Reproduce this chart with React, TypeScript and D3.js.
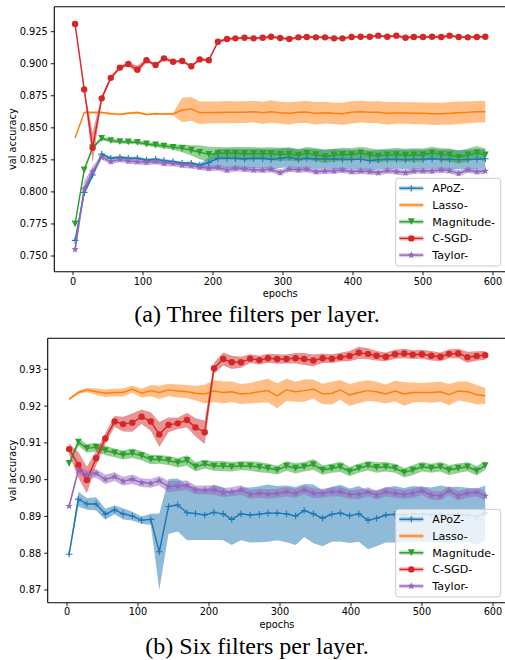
import React from 'react';
import * as d3 from 'd3';

// ---------- data ----------
const epochs = [3, 16, 28, 41, 54, 67, 79, 92, 105, 118, 130, 143, 156, 169, 181, 194, 207, 220, 232, 245, 258, 271, 283, 296, 309, 322, 334, 347, 360, 373, 385, 398, 411, 424, 436, 449, 462, 475, 487, 500, 513, 526, 538, 551, 564, 577, 589];

const seriesNames = ['APoZ-', 'Lasso-', 'Magnitude-', 'C-SGD-', 'Taylor-'];
const seriesColors = ['#1f77b4', '#ff7f0e', '#2ca02c', '#d62728', '#9467bd'];
const seriesMarkers = ['plus', 'none', 'tri', 'circle', 'star'];

const xTicks = [0, 100, 200, 300, 400, 500, 600];
const yTicksA = [0.75, 0.775, 0.8, 0.825, 0.85, 0.875, 0.9, 0.925];
const yTicksB = [0.87, 0.88, 0.89, 0.9, 0.91, 0.92, 0.93];

// (a) three filters per layer
const apozA = [0.7622, 0.7995, 0.8132, 0.8295, 0.8262, 0.827, 0.8262, 0.8262, 0.8249, 0.8254, 0.8244, 0.8236, 0.8223, 0.8223, 0.821, 0.8228, 0.8262, 0.8262, 0.8262, 0.8258, 0.8262, 0.8262, 0.8254,
  0.8262, 0.827, 0.8254, 0.8262, 0.8257, 0.8257, 0.8257, 0.8254, 0.8254, 0.8254, 0.8244, 0.8252, 0.8254, 0.8254, 0.8252, 0.8254, 0.8254, 0.8259, 0.8254, 0.8254, 0.8252, 0.8254, 0.8254, 0.8259];
const apozAStd = [0.001, 0.002, 0.002, 0.0012, 0.0012, 0.0012, 0.0013, 0.0012, 0.0012, 0.0013, 0.0012, 0.0012, 0.0013, 0.0012, 0.0012, 0.004,
  0.0072, 0.0075, 0.0074, 0.0076, 0.0075, 0.0073, 0.0078, 0.0076, 0.0075, 0.0077, 0.0074, 0.0076, 0.0075, 0.0078, 0.0076, 0.0074, 0.0075, 0.0077, 0.0076, 0.0075, 0.0074, 0.0076, 0.0078, 0.0075, 0.0074, 0.0076, 0.0077, 0.0075, 0.0074, 0.0076, 0.0075];
const lassoA = [0.842, 0.862, 0.862, 0.862, 0.861, 0.8605, 0.8614, 0.862, 0.8604, 0.861, 0.8608, 0.8608, 0.8639, 0.8648, 0.8618, 0.862, 0.862, 0.8622, 0.8622, 0.8622,
  0.8626, 0.8618, 0.8626, 0.8618, 0.8613, 0.8621, 0.8623, 0.8613, 0.8618, 0.8613, 0.861, 0.8621, 0.8626, 0.8621, 0.8621, 0.8613, 0.8616, 0.8616, 0.8613, 0.8613, 0.861, 0.861, 0.8613, 0.8618, 0.8621, 0.8626, 0.8626];
const lassoAStd = [0.0005, 0.0008, 0.0008, 0.0008, 0.0008, 0.0008, 0.0008, 0.0008, 0.0008, 0.0008, 0.0008, 0.001, 0.0095, 0.0092,
  0.0088, 0.0086, 0.0085, 0.0087, 0.0084, 0.0085, 0.0083, 0.0086, 0.0089, 0.0085, 0.0087, 0.0084, 0.0086, 0.0088, 0.0085, 0.0083, 0.0086, 0.0087, 0.0085, 0.0084, 0.0086, 0.0088, 0.0085, 0.0084, 0.0086, 0.0085, 0.0087, 0.0086, 0.0089, 0.0088, 0.0085, 0.0084, 0.0085];
const magA = [0.775, 0.8171, 0.8345, 0.8418, 0.84, 0.8392, 0.839, 0.8387, 0.8374, 0.8366, 0.8358, 0.8348, 0.834, 0.8325, 0.8309, 0.8293, 0.8301, 0.8301, 0.8301, 0.8298, 0.8298, 0.8298, 0.8298,
  0.8293, 0.8296, 0.8286, 0.8301, 0.8291, 0.8275, 0.8288, 0.8293, 0.8291, 0.8304, 0.8288, 0.828, 0.8288, 0.8291, 0.8286, 0.8288, 0.8288, 0.8304, 0.8291, 0.8288, 0.827, 0.8288, 0.8306, 0.8288];
const magAStd = [0.001, 0.0015, 0.0015, 0.0015, 0.0015, 0.0015, 0.0016, 0.0015, 0.0016, 0.0017, 0.0018, 0.002, 0.003, 0.004, 0.0055, 0.006,
  0.005, 0.0048, 0.005, 0.0052, 0.005, 0.0049, 0.005, 0.0051, 0.005, 0.0048, 0.005, 0.0052, 0.005, 0.0049, 0.0051, 0.005, 0.0048, 0.0052, 0.005, 0.0049, 0.0051, 0.005, 0.0053, 0.005, 0.0048, 0.005, 0.0051, 0.0049, 0.005, 0.0052, 0.005];
const csgdA = [0.931, 0.88, 0.8345, 0.873, 0.889, 0.897, 0.8998, 0.8954, 0.9027, 0.899, 0.9042, 0.9016, 0.9021, 0.898, 0.9034, 0.9027, 0.9172, 0.9193, 0.9198, 0.9203,
  0.9198, 0.9203, 0.9211, 0.9201, 0.9193, 0.9206, 0.9209, 0.9206, 0.9206, 0.9198, 0.9198, 0.9209, 0.9211, 0.9211, 0.9219, 0.9211, 0.9219, 0.9203, 0.9209, 0.9209, 0.9211, 0.9209, 0.9219, 0.9209, 0.9206, 0.9209, 0.9211];
const csgdAStd = [0.001, 0.0015, 0.012, 0.002, 0.0015, 0.0015, 0.0015, 0.003, 0.0015, 0.0012, 0.0015, 0.001, 0.001, 0.0012, 0.001, 0.001, 0.0012, 0.001, 0.0008, 0.0008,
  0.0009, 0.0009, 0.001, 0.0009, 0.001, 0.0009, 0.0009, 0.0008, 0.0009, 0.001, 0.0009, 0.0009, 0.0008, 0.0009, 0.001, 0.0009, 0.001, 0.0009, 0.0009, 0.0008, 0.0009, 0.001, 0.0009, 0.0009, 0.0008, 0.0009, 0.0009];
const taylorA = [0.7552, 0.8024, 0.8158, 0.8272, 0.8236, 0.8254, 0.8241, 0.8236, 0.8231, 0.8236, 0.8223, 0.8223, 0.821, 0.8205, 0.8192, 0.8184, 0.8189, 0.8171, 0.8184, 0.8179, 0.8171, 0.8171, 0.8176,
  0.815, 0.8179, 0.8171, 0.8176, 0.8158, 0.8163, 0.8163, 0.8171, 0.8158, 0.8163, 0.8158, 0.815, 0.8166, 0.8158, 0.815, 0.8163, 0.8163, 0.8163, 0.8171, 0.8166, 0.8145, 0.8171, 0.8158, 0.8163];
const taylorAStd = [0.004, 0.006, 0.004, 0.002, 0.0022, 0.0021, 0.0022, 0.0023, 0.0022, 0.0021, 0.0022, 0.0022, 0.0023, 0.0022, 0.0021, 0.0022, 0.0022, 0.0023, 0.0022, 0.0021, 0.0022, 0.0022, 0.0023,
  0.0022, 0.0021, 0.0022, 0.0022, 0.0023, 0.0022, 0.0021, 0.0022, 0.0022, 0.0023, 0.0022, 0.0021, 0.0022, 0.0022, 0.0023, 0.0022, 0.0021, 0.0022, 0.0022, 0.0023, 0.0022, 0.0021, 0.0022, 0.0022];

// (b) six filters per layer
const apozB = [0.8797, 0.8947, 0.8934, 0.8934, 0.8906, 0.8918, 0.8907, 0.8901, 0.889, 0.8892, 0.8804, 0.8927, 0.8931, 0.891, 0.8908, 0.8904, 0.8911, 0.8907, 0.8892, 0.8907,
  0.8904, 0.8906, 0.8909, 0.8909, 0.8907, 0.8901, 0.8916, 0.8907, 0.8895, 0.8906, 0.8909, 0.8902, 0.8907, 0.889, 0.8895, 0.8904, 0.8906, 0.8904, 0.8907, 0.8906, 0.8905, 0.8907, 0.8904, 0.8906, 0.8904, 0.8899, 0.8909];
const apozBStd = [0.0005, 0.002, 0.0016, 0.0018, 0.0015, 0.0012, 0.0015, 0.0012, 0.001, 0.0015, 0.0104, 0.0075, 0.0072, 0.0075, 0.0072, 0.0068, 0.0075, 0.0072, 0.007, 0.0072,
  0.0075, 0.0076, 0.0078, 0.0074, 0.0077, 0.0079, 0.0072, 0.008, 0.0076, 0.0075, 0.0077, 0.0074, 0.0076, 0.0079, 0.0076, 0.0075, 0.0077, 0.0073, 0.0076, 0.0075, 0.0074, 0.0077, 0.0076, 0.0075, 0.0074, 0.0076, 0.0075];
const lassoB = [0.9219, 0.9237, 0.9244, 0.9239, 0.9235, 0.9237, 0.9237, 0.9246, 0.9235, 0.9242, 0.9237, 0.9244, 0.9241, 0.9239, 0.9235, 0.9233, 0.9241, 0.9237, 0.9239, 0.9233, 0.9235, 0.9239,
  0.9242, 0.9228, 0.9244, 0.9239, 0.9242, 0.9246, 0.9233, 0.9235, 0.9244, 0.923, 0.9237, 0.9242, 0.9239, 0.9233, 0.9241, 0.9233, 0.9237, 0.9237, 0.9237, 0.9239, 0.9231, 0.9241, 0.9239, 0.9231, 0.9228];
const lassoBStd = [0.0003, 0.0005, 0.0006, 0.0009, 0.001, 0.001, 0.0011, 0.001, 0.0012, 0.0015, 0.0018, 0.0017, 0.0018, 0.0018, 0.002, 0.0025, 0.003, 0.003, 0.0028, 0.0027, 0.0028, 0.003,
  0.0032, 0.0034, 0.003, 0.0027, 0.003, 0.0026, 0.0028, 0.0031, 0.0027, 0.003, 0.0029, 0.0028, 0.0027, 0.0026, 0.0028, 0.0032, 0.0027, 0.0026, 0.0028, 0.0027, 0.0029, 0.0026, 0.0028, 0.0026, 0.0022];
const magB = [0.9044, 0.9102, 0.9085, 0.9088, 0.9079, 0.9073, 0.9067, 0.9072, 0.9065, 0.9055, 0.9055, 0.9052, 0.9046, 0.9052, 0.9035, 0.9042, 0.9037, 0.9037, 0.9035, 0.9038,
  0.9037, 0.9034, 0.9031, 0.9026, 0.9037, 0.9031, 0.9035, 0.9041, 0.9026, 0.9031, 0.9035, 0.9022, 0.9031, 0.9038, 0.9033, 0.9035, 0.9031, 0.9019, 0.9026, 0.9035, 0.9031, 0.9035, 0.9026, 0.9031, 0.9035, 0.9024, 0.9038];
const magBStd = [0.0005, 0.001, 0.0012, 0.0012, 0.0013, 0.0012, 0.0012, 0.0013, 0.0012, 0.0013, 0.0012, 0.0012, 0.0013, 0.0014, 0.0013, 0.0012, 0.0013, 0.0014, 0.0013, 0.0012,
  0.0013, 0.0014, 0.0013, 0.0012, 0.0013, 0.0014, 0.0013, 0.0015, 0.0013, 0.0012, 0.0014, 0.0013, 0.0012, 0.0013, 0.0014, 0.0013, 0.0012, 0.0013, 0.0014, 0.0013, 0.0012, 0.0013, 0.0014, 0.0013, 0.0012, 0.0013, 0.0012];
const csgdB = [0.9083, 0.904, 0.8999, 0.9058, 0.9112, 0.9158, 0.9151, 0.9155, 0.9171, 0.9158, 0.9123, 0.9149, 0.9153, 0.9162, 0.9142, 0.9129, 0.9303, 0.9328, 0.9319, 0.9319,
  0.9329, 0.9325, 0.933, 0.9328, 0.9328, 0.933, 0.9328, 0.9324, 0.933, 0.9329, 0.9333, 0.9336, 0.9345, 0.9342, 0.9337, 0.9334, 0.9341, 0.9343, 0.934, 0.9341, 0.9337, 0.9334, 0.9342, 0.9343, 0.9333, 0.9336, 0.9338];
const csgdBStd = [0.0015, 0.0035, 0.0036, 0.002, 0.0015, 0.0015, 0.002, 0.0025, 0.002, 0.0025, 0.0034, 0.002, 0.0015, 0.002, 0.0025, 0.0032, 0.0015, 0.0018, 0.0018, 0.0015,
  0.0012, 0.0012, 0.0012, 0.0013, 0.0012, 0.0014, 0.0016, 0.0016, 0.0013, 0.0012, 0.0012, 0.0014, 0.0016, 0.0015, 0.0013, 0.0012, 0.0012, 0.0013, 0.0012, 0.0012, 0.0013, 0.0012, 0.0012, 0.0013, 0.0015, 0.0013, 0.0012];
const taylorB = [0.8928, 0.9026, 0.9013, 0.9017, 0.9001, 0.9008, 0.8996, 0.9001, 0.8992, 0.899, 0.8997, 0.8981, 0.8983, 0.8985, 0.8972, 0.8972, 0.8972, 0.8965, 0.8967, 0.8972, 0.896, 0.8963, 0.8961,
  0.8963, 0.8967, 0.8963, 0.8972, 0.8963, 0.8963, 0.8967, 0.8967, 0.896, 0.896, 0.8967, 0.8958, 0.8967, 0.8963, 0.896, 0.8963, 0.897, 0.8958, 0.8956, 0.897, 0.8956, 0.8963, 0.8966, 0.8956];
const taylorBStd = [0.0008, 0.001, 0.0012, 0.0012, 0.0013, 0.0012, 0.0012, 0.0013, 0.0012, 0.0012, 0.0013, 0.0015, 0.0014, 0.0013, 0.0012, 0.0012, 0.0013, 0.0012, 0.0012, 0.0013, 0.0012, 0.0012, 0.0013,
  0.0012, 0.0013, 0.0012, 0.0012, 0.0013, 0.0012, 0.0012, 0.0013, 0.0012, 0.0013, 0.0012, 0.0012, 0.0013, 0.0012, 0.0012, 0.0013, 0.0012, 0.0013, 0.0012, 0.0012, 0.0013, 0.0012, 0.0012, 0.0013];

// ---------- drawing ----------
const SANS = "'DejaVu Sans', sans-serif";
const SERIF = "'Liberation Serif', 'Times New Roman', serif";

type Series = { name: string; color: string; marker: string; values: number[]; std: number[] };

function makeSeries(vals: number[][], stds: number[][]): Series[] {
  return seriesNames.map((name, i) => ({
    name,
    color: seriesColors[i],
    marker: seriesMarkers[i],
    values: vals[i],
    std: stds[i],
  }));
}

function starPath(cx: number, cy: number, R: number, r: number) {
  const pts: string[] = [];
  for (let i = 0; i < 10; i++) {
    const a = -Math.PI / 2 + (i * Math.PI) / 5;
    const rad = i % 2 === 0 ? R : r;
    pts.push(`${cx + rad * Math.cos(a)},${cy + rad * Math.sin(a)}`);
  }
  return 'M' + pts.join('L') + 'Z';
}

function Marker({ type, x, y, color }: { type: string; x: number; y: number; color: string }) {
  if (type === 'plus') {
    const s = 3.3;
    return <path d={`M${x - s},${y}H${x + s}M${x},${y - s}V${y + s}`} stroke={color} strokeWidth={1.1} fill="none" />;
  }
  if (type === 'tri') {
    const s = 3.4;
    return <path d={`M${x - s},${y - s}L${x + s},${y - s}L${x},${y + s}Z`} fill={color} />;
  }
  if (type === 'circle') return <circle cx={x} cy={y} r={3.2} fill={color} />;
  if (type === 'star') return <path d={starPath(x, y, 3.9, 1.55)} fill={color} />;
  return null;
}

type PanelProps = {
  id: string;
  series: Series[];
  box: { left: number; right: number; top: number; bottom: number };
  xRange: [number, number];
  yDomain: [number, number];
  yRange: [number, number];
  yTicks: number[];
  yFmt: string;
  xTickBase: number;
  xLabelBase: number;
  legendTop: number;
  caption: string;
  captionBase: number;
};

function Panel(p: PanelProps) {
  const x = d3.scaleLinear().domain([0, 600]).range(p.xRange);
  const y = d3.scaleLinear().domain(p.yDomain).range(p.yRange);
  const fmt = d3.format(p.yFmt);
  const { left, right, top, bottom } = p.box;
  const area = (s: Series) =>
    d3
      .area<number>()
      .x((_, i) => x(epochs[i]))
      .y0((v, i) => y(v - (s.std[i] ?? 0)))
      .y1((v, i) => y(v + (s.std[i] ?? 0)))(s.values) || '';
  const line = d3
    .line<number>()
    .x((_, i) => x(epochs[i]))
    .y((v) => y(v));
  const lg = { x: 395.7, y: p.legendTop, w: 105, h: 87.7 };
  return (
    <g>
      <defs>
        <clipPath id={`clip-${p.id}`}>
          <rect x={left} y={top} width={right - left} height={bottom - top} />
        </clipPath>
      </defs>
      <g clipPath={`url(#clip-${p.id})`}>
        {p.series.map((s) => (
          <path key={'b' + s.name} d={area(s)} fill={s.color} fillOpacity={0.5} stroke="none" />
        ))}
        {p.series.map((s) => (
          <g key={'l' + s.name}>
            <path d={line(s.values) || ''} fill="none" stroke={s.color} strokeWidth={1.45} strokeLinejoin="round" />
            {s.values.map((v, i) => (
              <Marker key={i} type={s.marker} x={x(epochs[i])} y={y(v)} color={s.color} />
            ))}
          </g>
        ))}
      </g>
      {/* spines */}
      <g stroke="#000" strokeWidth={1.1} fill="none">
        <line x1={left} y1={top} x2={right} y2={top} />
        <line x1={left} y1={bottom} x2={right} y2={bottom} />
        <line x1={left} y1={top} x2={left} y2={bottom} />
        <line x1={right} y1={top} x2={right} y2={bottom} />
      </g>
      {/* y ticks */}
      {p.yTicks.map((t) => (
        <g key={'y' + t}>
          <line x1={left - 3.5} x2={left} y1={y(t)} y2={y(t)} stroke="#000" strokeWidth={0.9} />
          <text x={left - 6.5} y={y(t)} dy="0.35em" textAnchor="end" fontFamily={SANS} fontSize={9.8} fill="#000">
            {fmt(t)}
          </text>
        </g>
      ))}
      {/* x ticks */}
      {xTicks.map((t) => (
        <g key={'x' + t}>
          <line x1={x(t)} x2={x(t)} y1={bottom} y2={bottom + 3.5} stroke="#000" strokeWidth={0.9} />
          <text x={x(t)} y={p.xTickBase} textAnchor="middle" fontFamily={SANS} fontSize={9.8} fill="#000">
            {t}
          </text>
        </g>
      ))}
      <text x={(left + right) / 2} y={p.xLabelBase} textAnchor="middle" fontFamily={SANS} fontSize={9.8} fill="#000">
        epochs
      </text>
      <text
        transform={`translate(16,${(top + bottom) / 2}) rotate(-90)`}
        textAnchor="middle"
        fontFamily={SANS}
        fontSize={9.8}
        fill="#000"
      >
        val accuracy
      </text>
      {/* legend */}
      <rect x={lg.x} y={lg.y} width={lg.w} height={lg.h} rx={3} ry={3} fill="#fff" fillOpacity={0.8} stroke="#cccccc" strokeWidth={1} />
      {p.series.map((s, i) => {
        const cy = lg.y + 10 + i * 16.7;
        return (
          <g key={'lg' + s.name}>
            <rect x={399.3} y={cy - 2.2} width={24} height={4.4} fill={s.color} fillOpacity={0.3} />
            <line x1={399.3} x2={423.3} y1={cy} y2={cy} stroke={s.color} strokeWidth={1.45} />
            <Marker type={s.marker} x={411.3} y={cy} color={s.color} />
            <text x={432.3} y={cy} dy="0.36em" fontFamily={SANS} fontSize={11.1} fill="#000">
              {s.name}
            </text>
          </g>
        );
      })}
      <text x={257} y={p.captionBase} textAnchor="middle" fontFamily={SERIF} fontSize={24} fill="#000">
        {p.caption}
      </text>
    </g>
  );
}

export default function App() {
  const seriesA = makeSeries([apozA, lassoA, magA, csgdA, taylorA], [apozAStd, lassoAStd, magAStd, csgdAStd, taylorAStd]);
  const seriesB = makeSeries([apozB, lassoB, magB, csgdB, taylorB], [apozBStd, lassoBStd, magBStd, csgdBStd, taylorBStd]);
  return (
    <svg width={505} height={660} style={{ position: 'absolute', left: 0, top: 0, background: '#fff' }}>
      <rect x={0} y={0} width={505} height={660} fill="#fff" />
      <Panel
        id="a"
        series={seriesA}
        box={{ left: 54.3, right: 506.2, top: 6.7, bottom: 271.7 }}
        xRange={[73, 493]}
        yDomain={[0.75, 0.925]}
        yRange={[256, 31.7]}
        yTicks={yTicksA}
        yFmt=".3f"
        xTickBase={284.8}
        xLabelBase={296.5}
        legendTop={178.3}
        caption="(a) Three filters per layer."
        captionBase={321.5}
      />
      <Panel
        id="b"
        series={seriesB}
        box={{ left: 47.7, right: 506.3, top: 338.3, bottom: 602.7 }}
        xRange={[67, 493]}
        yDomain={[0.87, 0.93]}
        yRange={[590, 369.3]}
        yTicks={yTicksB}
        yFmt=".2f"
        xTickBase={615}
        xLabelBase={627.5}
        legendTop={509.3}
        caption="(b) Six filters per layer."
        captionBase={653.5}
      />
    </svg>
  );
}
